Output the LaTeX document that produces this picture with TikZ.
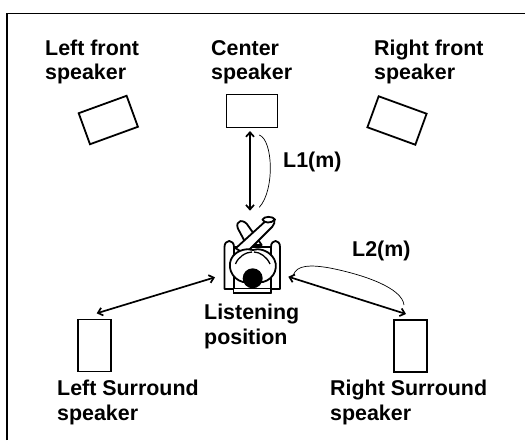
\documentclass[tikz,border=0pt]{standalone}
\usepackage{fontspec}
\setmainfont{Liberation Sans}
\usetikzlibrary{arrows.meta}
\tikzset{
  x=1pt,y=-1pt,
  lab/.style={font=\bfseries\fontsize{21.4}{24.5}\selectfont,align=left,inner sep=0pt,anchor=base west},
  spk/.style={draw=black,line width=1.8pt,fill=white,inner sep=0pt,shape=rectangle},
  dist/.style={line width=1.7pt,{Straight Barb[length=4.5pt,width=8pt]}-{Straight Barb[length=4.5pt,width=8pt]}},
  arcline/.style={line width=0.7pt},
  body/.style={draw=black,line width=1.8pt,fill=white,line join=round},
  frameline/.style={line width=1.2pt}
}
\begin{document}
\begin{tikzpicture}
\useasboundingbox (0,0) rectangle (525,440);
\fill[white] (0,0) rectangle (525,440);
\coordinate (fa) at (7,440); \coordinate (fb) at (7,13.7); \coordinate (fc) at (525,13.7);
\draw[frameline] (fa) -- (fb) -- (fc);
\node[lab] (lf) at (45,79.5) {Left front\\speaker};
\node[lab] (cs) at (211,79.5) {Center\\speaker};
\node[lab] (rf) at (374,79.5) {Right front\\speaker};
\node[lab] (l1) at (283,167) {L1(m)};
\node[lab] (l2) at (352,256) {L2(m)};
\node[lab] (lp) at (204,344) {Listening\\position};
\node[lab] (ls) at (57,420) {Left Surround\\speaker};
\node[lab] (rs) at (330,420) {Right Surround\\speaker};
\node[spk,minimum width=51pt,minimum height=33pt] (c) at (252,111) {};
\node[spk,minimum width=51pt,minimum height=33pt,rotate=20] (l) at (108.3,120) {};
\node[spk,minimum width=51pt,minimum height=33pt,rotate=-20] (r) at (397,120.5) {};
\node[spk,minimum width=33pt,minimum height=52pt] (sl) at (94.7,345.5) {};
\node[spk,minimum width=33pt,minimum height=52pt] (sr) at (410.3,345.8) {};
% chair
\draw[body] (233.5,246.7) rectangle (271,293);
\draw[body] (224.5,289) -- (224.5,247) .. controls (224.5,239) and (234,239) .. (234,247) -- (234,289) -- cycle;
\draw[body] (271,289) -- (271,247) .. controls (271,239) and (280,239) .. (280,247) -- (280,289) -- cycle;
\draw[body] (224.5,289) -- (280,289);
\draw[body] (233.5,289) -- (233.5,293) -- (271,293) -- (271,289);
% legs
\draw[body] (246.7,245) -- (237.8,228.3) .. controls (235,220) and (244,218) .. (248.8,226.7) -- (261.7,245) -- cycle;
\draw[body] (245,254) -- (272.3,226.7) .. controls (276,222) and (275,218) .. (270,218) .. controls (266,218) and (264,219) .. (265.7,221) -- (235.7,248.3) -- cycle;
\draw[body] (262.5,219.5) .. controls (264,223) and (271,224) .. (275,219.5) .. controls (273,216) and (264,216) .. (262.5,219.5) -- cycle;
% torso
\draw[body] (233,256) .. controls (226,265) and (231,279) .. (243,282) -- (263,282) .. controls (275,279) and (280,265) .. (272,256) .. controls (267,250) and (258,248) .. (253,250) .. controls (247,248) and (238,250) .. (233,256) -- cycle;
\draw[line width=1.3pt] (235.5,264) .. controls (238,257) and (246,252) .. (252,252);
\draw[line width=1.3pt] (270,264) .. controls (267,257) and (260,252) .. (254,252);
\node[circle,fill=black,minimum size=20pt,inner sep=0pt] (h) at (252.7,278.3) {};
% arrows
\coordinate (a1) at (250,131); \coordinate (a2) at (250,210.7);
\draw[dist] (a1) -- (a2);
\coordinate (b1) at (288.3,276.7); \coordinate (b2) at (406,314);
\draw[dist] (b1) -- (b2);
\coordinate (d1) at (96.7,313.3); \coordinate (d2) at (215,277.3);
\draw[dist] (d1) -- (d2);
\coordinate (e1) at (259.3,135); \coordinate (e2) at (259.3,207.3);
\draw[arcline] (e1) .. controls (273,140) and (275,190) .. (e2);
\coordinate (f1) at (293.3,275); \coordinate (f2) at (404,305);
\draw[arcline] (f1) .. controls (297,265) and (310,264.5) .. (330,268) .. controls (365,275) and (402,288) .. (f2);
\end{tikzpicture}
\end{document}
